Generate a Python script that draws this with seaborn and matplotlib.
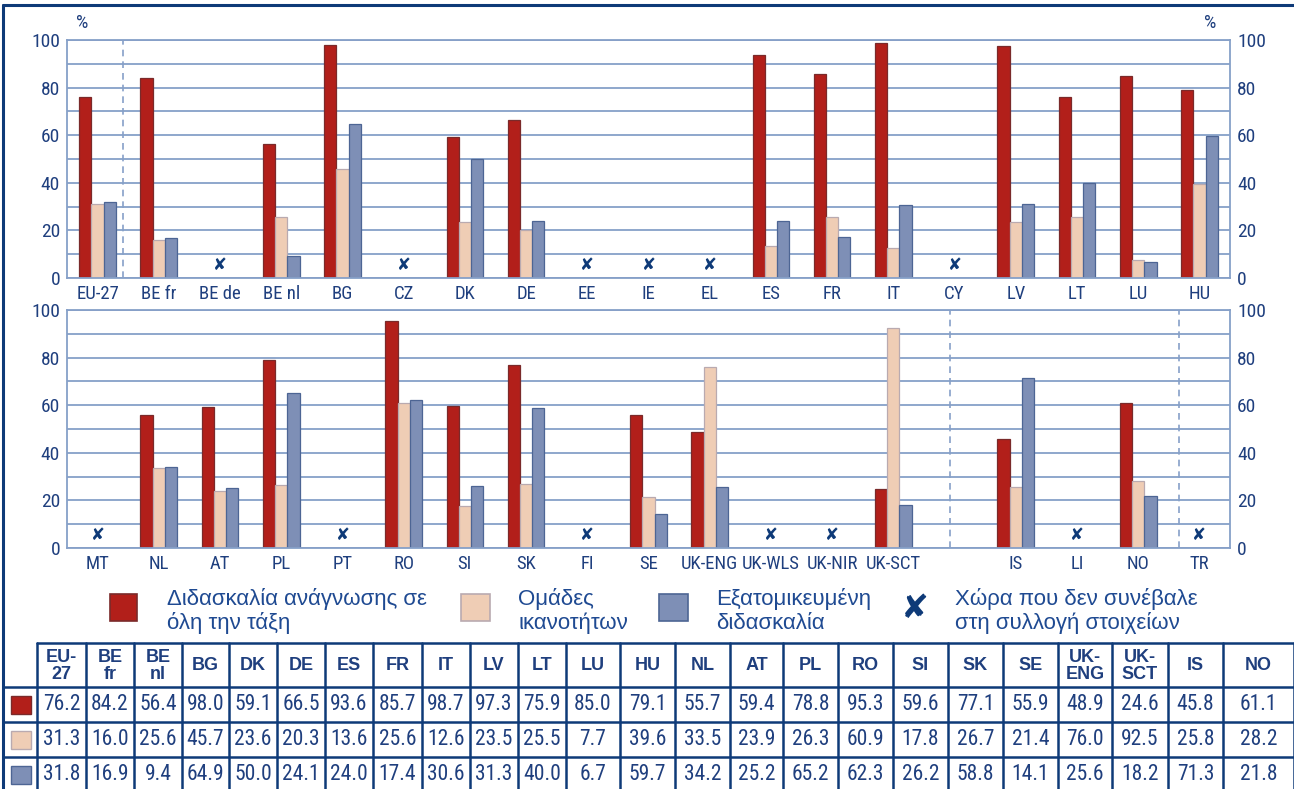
import numpy as np
import pandas as pd
import matplotlib
matplotlib.use('Agg')
import matplotlib.pyplot as plt
from matplotlib.patches import Rectangle
from matplotlib.lines import Line2D
from matplotlib import font_manager
from matplotlib.font_manager import FontProperties
import seaborn as sns

# ---------------- data ----------------
top_countries = ['EU-27', 'BE fr', 'BE de', 'BE nl', 'BG', 'CZ', 'DK', 'DE', 'EE', 'IE', 'EL',
                 'ES', 'FR', 'IT', 'CY', 'LV', 'LT', 'LU', 'HU']
top_whole = [76.2, 84.2, None, 56.4, 98.0, None, 59.1, 66.5, None, None, None,
             93.6, 85.7, 98.7, None, 97.3, 75.9, 85.0, 79.1]
top_ability = [31.3, 16.0, None, 25.6, 45.7, None, 23.6, 20.3, None, None, None,
               13.6, 25.6, 12.6, None, 23.5, 25.5, 7.7, 39.6]
top_indiv = [31.8, 16.9, None, 9.4, 64.9, None, 50.0, 24.1, None, None, None,
             24.0, 17.4, 30.6, None, 31.3, 40.0, 6.7, 59.7]

bottom_countries = ['MT', 'NL', 'AT', 'PL', 'PT', 'RO', 'SI', 'SK', 'FI', 'SE', 'UK-ENG',
                    'UK-WLS', 'UK-NIR', 'UK-SCT', '', 'IS', 'LI', 'NO', 'TR']
bottom_whole = [None, 55.7, 59.4, 78.8, None, 95.3, 59.6, 77.1, None, 55.9, 48.9,
                None, None, 24.6, None, 45.8, None, 61.1, None]
bottom_ability = [None, 33.5, 23.9, 26.3, None, 60.9, 17.8, 26.7, None, 21.4, 76.0,
                  None, None, 92.5, None, 25.8, None, 28.2, None]
bottom_indiv = [None, 34.2, 25.2, 65.2, None, 62.3, 26.2, 58.8, None, 14.1, 25.6,
                None, None, 18.2, None, 71.3, None, 21.8, None]

series_names = ['Διδασκαλία ανάγνωσης σε\nόλη την τάξη', 'Ομάδες\nικανοτήτων',
                'Εξατομικευμένη\nδιδασκαλία']
missing_label = 'Χώρα που δεν συνέβαλε\nστη συλλογή στοιχείων'
header_labels = {'EU-27': 'EU-\n27', 'BE fr': 'BE\nfr', 'BE nl': 'BE\nnl',
                 'UK-ENG': 'UK-\nENG', 'UK-SCT': 'UK-\nSCT'}
yticks = [0, 20, 40, 60, 80, 100]

# ---------------- style ----------------
colors = ['#b21f1a', '#efcdb5', '#7e8fb6']
edges = ['#7a2a2a', '#b9aab0', '#4d6594']
dark = '#0e3a78'
text_c = '#1f3f7e'
legend_c = '#1f4a92'
grid_c = '#86a0c8'

sns.set_theme(style='white')
names = {f.name for f in font_manager.fontManager.ttflist}
sans = 'Liberation Sans' if 'Liberation Sans' in names else 'DejaVu Sans'
plt.rcParams['font.family'] = [sans, 'DejaVu Sans']


def find_narrow():
    cands = []
    for f in font_manager.fontManager.ttflist:
        fn = f.fname.lower().split('/')[-1]
        if not ('narrow' in fn or 'condensed' in fn):
            continue
        bad = ['bold', 'italic', 'oblique', 'light', 'semi', 'extra', 'black', 'medium',
               'thin', 'serif', 'mono', 'cjk', 'ultra']
        if any(b in fn for b in bad):
            continue
        cands.append(f.fname)
    pref = ['liberationsansnarrow', 'robotocondensed', 'dejavusanscondensed', 'notosans',
            'opensans', 'lato', 'inter']
    for p in pref:
        for f in cands:
            if p in f.lower().replace('-', '').replace('_', ''):
                return f
    return None


nf = find_narrow()
if nf:
    NARROW = FontProperties(fname=nf)
    nscale = 1.0
else:
    NARROW = FontProperties(family=sans)
    nscale = 0.85


def nfp(size):
    p = NARROW.copy()
    p.set_size(size * nscale)
    return p


W, H = 1294, 789
fig = plt.figure(figsize=(W / 100, H / 100), dpi=100)
fig.patch.set_facecolor('white')


def fx(x):
    return x / W


def fy(y):
    return 1 - y / H


def make_df(countries, s1, s2, s3):
    rows = []
    for c, a, b, d in zip(countries, s1, s2, s3):
        for name, v in zip(series_names, (a, b, d)):
            rows.append({'country': c, 'series': name,
                         'value': np.nan if v is None else v})
    return pd.DataFrame(rows)


panels = [
    (top_countries, top_whole, top_ability, top_indiv, 40, 278, [0.41]),
    (bottom_countries, bottom_whole, bottom_ability, bottom_indiv, 310, 548, [13.93, 17.66]),
]

for countries, s1, s2, s3, ytop, ybot, seps in panels:
    ax = fig.add_axes([fx(67), fy(ybot), fx(1230) - fx(67), (ybot - ytop) / H])
    df = make_df(countries, s1, s2, s3)
    sns.barplot(data=df, x='country', y='value', hue='series', order=countries,
                hue_order=series_names, palette=colors, width=0.6, errorbar=None,
                ax=ax, legend=False, saturation=1, linewidth=0.9)
    for cont, ec in zip(ax.containers, edges):
        for p in cont:
            p.set_edgecolor(ec)
    ax.set_xlim(-0.5, len(countries) - 0.5)
    ax.set_ylim(0, 100)
    ax.set_yticks(yticks)
    ax.set_yticks(range(10, 100, 20), minor=True)
    ax.set_axisbelow(True)
    ax.grid(axis='y', which='both', color=grid_c, lw=1.3)
    ax.grid(axis='x', visible=False)
    ax.tick_params(which='both', length=0)
    ax.tick_params(axis='y', labelleft=True, labelright=True,
                   labelcolor=text_c, pad=5)
    ax.tick_params(axis='x', labelcolor=text_c, pad=5)
    for t in ax.xaxis.get_major_ticks():
        t.label1.set_fontproperties(nfp(13.5))
    for t in ax.yaxis.get_major_ticks():
        t.label1.set_fontproperties(nfp(14))
        t.label2.set_fontproperties(nfp(14))
        t.label2.set_color(text_c)
    ax.set_xlabel('')
    ax.set_ylabel('')
    for sp in ax.spines.values():
        sp.set_visible(True)
        sp.set_color(grid_c)
        sp.set_linewidth(1.3)
    for s in seps:
        ax.axvline(s, color=grid_c, lw=1.2, ls=(0, (4, 3)))
    for i, c in enumerate(countries):
        vals = [s1[i], s2[i], s3[i]]
        if c and all(v is None for v in vals):
            ax.text(i, 5.5, '✘', ha='center', va='center', fontsize=12,
                    color=dark, family='DejaVu Sans')

# % labels
fig.text(fx(82), fy(23), '%', ha='center', va='center', color=text_c, fontproperties=nfp(14))
fig.text(fx(1210), fy(23), '%', ha='center', va='center', color=text_c, fontproperties=nfp(14))

# frame lines
fig.add_artist(Line2D([fx(3), fx(3)], [0, fy(5)], color=dark, lw=2.2))
fig.add_artist(Line2D([fx(3), 1], [fy(5), fy(5)], color=dark, lw=2.2))


def rect(x0, y0, x1, y1, fc, ec, lw=1.0):
    fig.add_artist(Rectangle((fx(x0), fy(y1)), fx(x1) - fx(x0), (y1 - y0) / H,
                             transform=fig.transFigure, facecolor=fc, edgecolor=ec, lw=lw))


# legend
leg_sq = [(110, 137), (461, 490), (659, 688)]
leg_tx = [167, 518, 716]
for (x0, x1), tx, name, fc, ec in zip(leg_sq, leg_tx, series_names, colors, edges):
    rect(x0, 594, x1, 621, fc, ec, 1.2)
    fig.text(fx(tx), fy(611), name, ha='left', va='center', fontsize=16,
             color=legend_c, linespacing=1.15)
fig.text(fx(915), fy(608), '✘', ha='center', va='center', fontsize=24, color=dark,
         family='DejaVu Sans')
fig.text(fx(955), fy(611), missing_label, ha='left', va='center', fontsize=16,
         color=legend_c, linespacing=1.15)

# table
tab_cols, tab_rows = [], [[], [], []]
for countries, s1, s2, s3 in [(top_countries, top_whole, top_ability, top_indiv),
                              (bottom_countries, bottom_whole, bottom_ability, bottom_indiv)]:
    for c, a, b, d in zip(countries, s1, s2, s3):
        if c and a is not None:
            tab_cols.append(c)
            for r, v in zip(tab_rows, (a, b, d)):
                r.append(v)

col_edges = [37, 86, 134, 182, 229, 277, 325, 373, 422, 470, 518, 566, 620, 675, 730,
             783, 838, 893, 948, 1003, 1058, 1112, 1168, 1223, 1294]
row_edges = [643, 687, 722, 757, 792]
tlw = 1.8
fig.add_artist(Line2D([fx(col_edges[0]), 1], [fy(row_edges[0])] * 2, color=dark, lw=tlw))
for y in row_edges[1:4]:
    fig.add_artist(Line2D([fx(3), 1], [fy(y)] * 2, color=dark, lw=tlw))
for x in col_edges:
    fig.add_artist(Line2D([fx(x)] * 2, [0, fy(row_edges[0])], color=dark, lw=tlw))

for j, c in enumerate(tab_cols):
    xc = (col_edges[j] + col_edges[j + 1]) / 2
    fig.text(fx(xc), fy((row_edges[0] + row_edges[1]) / 2 + 1), header_labels.get(c, c),
             ha='center', va='center', fontsize=13, fontweight='bold', color=text_c,
             linespacing=0.95)
    for i in range(3):
        yc = (row_edges[i + 1] + row_edges[i + 2]) / 2
        if i == 2:
            yc = 774
        fig.text(fx(xc), fy(yc), f'{tab_rows[i][j]:.1f}', ha='center', va='center',
                 color=text_c, fontproperties=nfp(15.5))

# row keys
for i, (fc, ec) in enumerate(zip(colors, edges)):
    yc = (row_edges[i + 1] + row_edges[i + 2]) / 2
    yc = min(yc, 775)
    rect(11, yc - 9, 31, yc + 9, fc, ec, 1.0)

fig.savefig('out.png', dpi=100, facecolor='white')
